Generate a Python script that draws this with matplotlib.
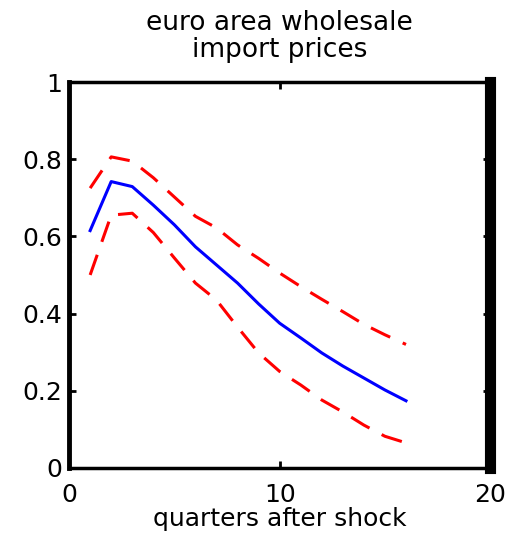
import matplotlib
matplotlib.use("Agg")
import matplotlib.pyplot as plt

plt.rcParams['font.family'] = ['DejaVu Sans']

quarters = [1, 2, 3, 4, 5, 6, 7, 8, 9, 10, 11, 12, 13, 14, 15, 16]
response = [0.615, 0.742, 0.729, 0.681, 0.630, 0.573, 0.526, 0.479, 0.425, 0.375,
            0.337, 0.298, 0.264, 0.233, 0.202, 0.174]
upper = [0.725, 0.806, 0.795, 0.752, 0.702, 0.652, 0.622, 0.578, 0.543, 0.505,
         0.470, 0.437, 0.405, 0.372, 0.345, 0.320]
lower = [0.500, 0.655, 0.660, 0.610, 0.544, 0.479, 0.435, 0.365, 0.298, 0.250,
         0.215, 0.176, 0.145, 0.111, 0.082, 0.065]

fig = plt.figure(figsize=(5.08, 5.36), dpi=100)
ax = fig.add_axes([0.136, 0.127, 0.829, 0.720])

ax.plot(quarters, response, color='blue', lw=2.2)
ax.plot(quarters, upper, color='red', lw=2.2, dashes=(7, 4.5))
ax.plot(quarters, lower, color='red', lw=2.2, dashes=(7, 4.5))

ax.set_xlim(0, 20)
ax.set_ylim(0, 1)
ax.set_xticks([0, 10, 20])
ax.set_yticks([0, 0.2, 0.4, 0.6, 0.8, 1])
ax.set_yticklabels(['0', '0.2', '0.4', '0.6', '0.8', '1'])
ax.tick_params(direction='in', top=True, right=True, length=5, width=2,
               labelsize=18)
ax.tick_params(axis='x', pad=11)
ax.tick_params(axis='y', pad=5)
for s in ['top', 'bottom']:
    ax.spines[s].set_linewidth(2.5)
ax.spines['left'].set_linewidth(3.5)
ax.spines['right'].set_linewidth(8)

ax.set_title('euro area wholesale\nimport prices', fontsize=19, pad=18, linespacing=1.05)
ax.set_xlabel('quarters after shock', fontsize=18, labelpad=0)

fig.savefig('out.png', dpi=100)
